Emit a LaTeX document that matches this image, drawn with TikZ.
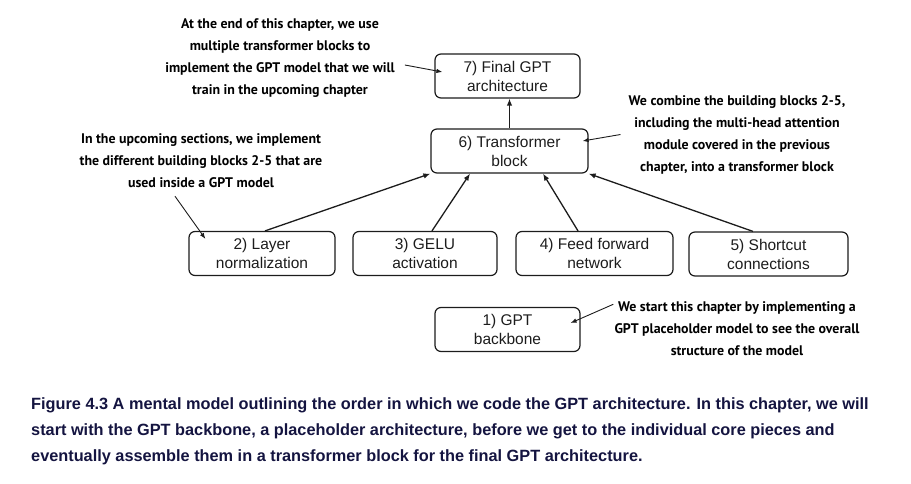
\documentclass[tikz,border=0pt]{standalone}
\usepackage{fontspec}
\setmainfont{Liberation Sans}
\newfontfamily\notefont{PT Sans}
\usetikzlibrary{arrows.meta}
\definecolor{capnavy}{RGB}{20,20,64}
\definecolor{boxgray}{RGB}{28,28,28}

\begin{document}
\begin{tikzpicture}[x=1pt,y=-1pt]

      \useasboundingbox (0,0) rectangle (911,483);

      \begin{scope}[every node/.style={draw=boxgray,line width=1.2pt,rounded corners=6pt,
          minimum height=44pt,inner sep=0pt,align=center,text=boxgray,
          font=\fontsize{15.5}{19}\selectfont}]
        \node[minimum width=145pt] (7) at (507.5,76)  {7) Final GPT\\architecture};
        \node[minimum width=157pt] (6) at (509.5,151) {6) Transformer\\block};
        \node[minimum width=146pt] (2) at (262,253.5) {2) Layer\\normalization};
        \node[minimum width=144pt] (3) at (425,253.5) {3) GELU\\activation};
        \node[minimum width=157pt] (4) at (594.5,253.5) {4) Feed forward\\network};
        \node[minimum width=159pt] (5) at (768.5,254) {5) Shortcut\\connections};
        \node[minimum width=145pt] (1) at (507.5,329.5) {1) GPT\\backbone};
      \end{scope}

      \begin{scope}[every node/.style={align=center,inner sep=0pt,text=black,
          font=\notefont\bfseries\fontsize{13.9}{22}\selectfont}]
        \node (n7) at (280,58)  {At the end of this chapter, we use\\multiple transformer blocks to\\implement the GPT model that we will\\train in the upcoming chapter};
        \node (n2) at (201,161) {In the upcoming sections, we implement\\the different building blocks 2-5 that are\\used inside a GPT model};
        \node (n6) at (737,134.5) {We combine the building blocks 2-5,\\including the multi-head attention\\module covered in the previous\\chapter, into a transformer block};
        \node (n1) at (737,328.5) {We start this chapter by implementing a\\GPT placeholder model to see the overall\\structure of the model};
      \end{scope}

      \node[anchor=north west,align=left,inner sep=0pt,text=capnavy,
        font=\bfseries\fontsize{16.3}{26}\selectfont] (cap) at (31,397)
        {Figure 4.3 A mental model outlining the order in which we code the GPT architecture. In this chapter, we will\\
         start with the GPT backbone, a placeholder architecture, before we get to the individual core pieces and\\
         eventually assemble them in a transformer block for the final GPT architecture.};

      \begin{scope}[every edge/.style={draw=boxgray,line width=1.3pt,-{Latex[length=7pt,width=5.5pt]}}]
        \path (6.north) edge (6.north |- 7.south);
        \path ([xshift=3pt]2.north)     edge (6.south west);
        \path ([xshift=7pt]3.north)     edge ([xshift=-39.5pt]6.south);
        \path ([xshift=-16.5pt]4.north) edge ([xshift=33.5pt]6.south);
        \path ([xshift=-15.5pt]5.north) edge (6.south east);
      \end{scope}

      \begin{scope}[every edge/.style={draw=boxgray,line width=0.9pt,-{Latex[length=6pt,width=4.5pt]}}]
        \path ([shift={(10,7)}]n7.east)        edge ([shift={(8,-4)}]7.west);
        \path ([xshift=-8pt]n6.west)           edge ([shift={(-6,-10)}]6.east);
        \path ([shift={(-26,8)}]n2.south)      edge ([shift={(17,8)}]2.north west);
        \path ([shift={(-1,3)}]n1.north west)  edge ([shift={(-10,-6.5)}]1.east);
      \end{scope}

    \end{tikzpicture}
\end{document}
